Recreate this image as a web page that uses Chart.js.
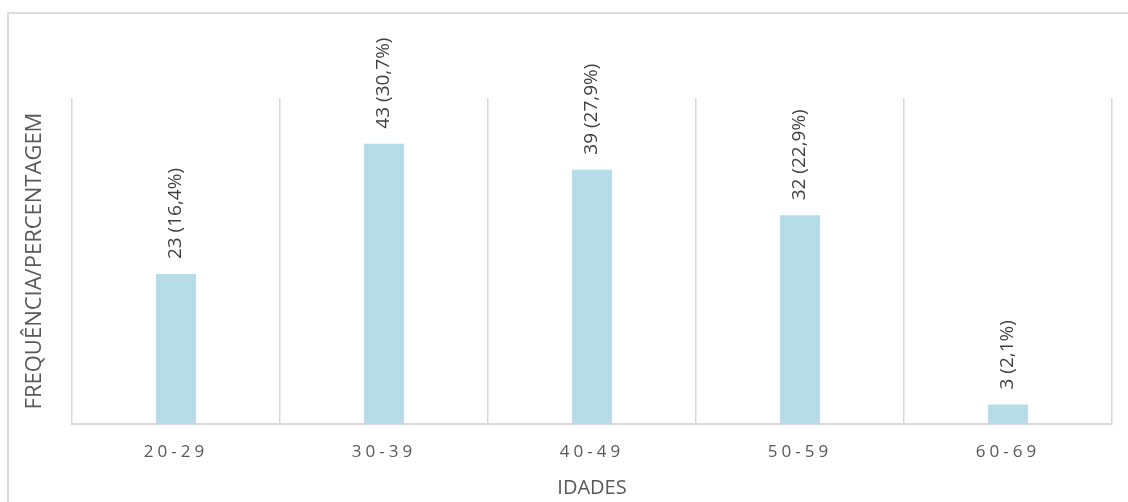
<!DOCTYPE html>
<html>
<head>
<meta charset="utf-8">
<title>Idades</title>
<script src="https://cdn.jsdelivr.net/npm/chart.js@4/dist/chart.umd.min.js"></script>
<style>
  html, body { margin: 0; padding: 0; background: #ffffff; }
  #wrap { position: relative; width: 1128px; height: 502px; overflow: hidden; }
  #frame { position: absolute; left: 7px; top: 12px; width: 1300px; height: 700px;
           border: 2px solid #dcdcdc; box-sizing: border-box; }
  canvas { position: absolute; left: 0; top: 0; }
</style>
</head>
<body>
<div id="wrap">
  <div id="frame"></div>
  <canvas id="chart" width="1128" height="502"></canvas>
</div>
<script>
// Age groups and respondent counts
const categories = ['20-29', '30-39', '40-49', '50-59', '60-69'];
const counts = [23, 43, 39, 32, 3];
const percentages = ['16,4%', '30,7%', '27,9%', '22,9%', '2,1%'];
const yMax = 50;

const FONT = '"Open Sans", "Noto Sans", sans-serif';

// Rotated "n (p%)" labels above each bar, then letter spacing for the x tick labels
const barLabels = {
  id: 'barLabels',
  afterDatasetsDraw(chart) {
    const ctx = chart.ctx;
    const meta = chart.getDatasetMeta(0);
    ctx.save();
    ctx.font = '19px ' + FONT;
    ctx.fillStyle = '#404040';
    ctx.textAlign = 'left';
    ctx.textBaseline = 'middle';
    meta.data.forEach((bar, i) => {
      const text = counts[i] + ' (' + percentages[i] + ')';
      ctx.save();
      ctx.translate(bar.x, bar.y - 15);
      ctx.rotate(-Math.PI / 2);
      ctx.fillText(text, 0, 0);
      ctx.restore();
    });
    ctx.restore();
    ctx.letterSpacing = '4px';
  },
  afterDraw(chart) {
    chart.ctx.letterSpacing = '0px';
  }
};

new Chart(document.getElementById('chart'), {
  type: 'bar',
  data: {
    labels: categories,
    datasets: [{
      data: counts,
      backgroundColor: '#b7dde8',
      borderWidth: 0,
      categoryPercentage: 1,
      barPercentage: 0.193
    }]
  },
  options: {
    responsive: false,
    animation: false,
    events: [],
    layout: { padding: { left: 0, right: 16, top: 98, bottom: 0 } },
    plugins: { legend: { display: false }, tooltip: { enabled: false } },
    scales: {
      x: {
        offset: true,
        afterFit(scale) { scale.height = 78; },
        grid: { display: true, offset: true, color: '#d9d9d9', lineWidth: 1.5, drawTicks: false },
        border: { display: true, color: '#d9d9d9', width: 2 },
        ticks: { z: 1, color: '#595959', font: { family: FONT, size: 17 }, padding: 18, maxRotation: 0 },
        title: { display: true, text: 'IDADES', color: '#595959',
                 font: { family: FONT, size: 20 }, padding: { top: 0, bottom: 2 } }
      },
      y: {
        min: 0,
        max: yMax,
        afterFit(scale) { scale.width = 72; },
        grid: { display: false },
        border: { display: false },
        ticks: { display: false },
        title: { display: true, text: 'FREQUÊNCIA/PERCENTAGEM', color: '#595959',
                 font: { family: FONT, size: 22 }, padding: { top: 22, bottom: 0 } }
      }
    }
  },
  plugins: [barLabels]
});
</script>
</body>
</html>
